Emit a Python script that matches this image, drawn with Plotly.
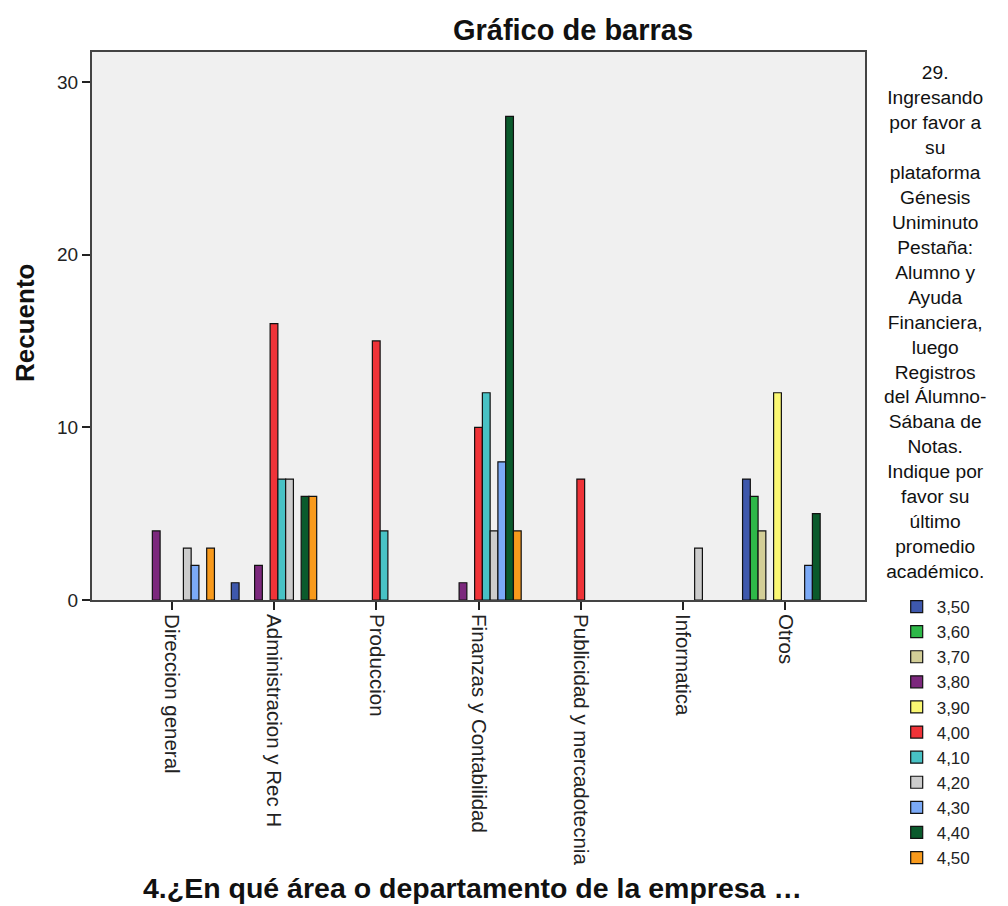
import plotly.graph_objects as go

categories = ["Direccion general", "Administracion y Rec H", "Produccion",
              "Finanzas y Contabilidad", "Publicidad y mercadotecnia",
              "Informatica", "Otros"]

series_names = ["3,50", "3,60", "3,70", "3,80", "3,90", "4,00",
                "4,10", "4,20", "4,30", "4,40", "4,50"]

v_350 = [None, 1, None, None, None, None, 7]
v_360 = [None, None, None, None, None, None, 6]
v_370 = [None, None, None, None, None, None, 4]
v_380 = [4, 2, None, 1, None, None, None]
v_390 = [None, None, None, None, None, None, 12]
v_400 = [None, 16, 15, 10, 7, None, None]
v_410 = [None, 7, 4, 12, None, None, None]
v_420 = [3, 7, None, 4, None, 3, None]
v_430 = [2, None, None, 8, None, None, 2]
v_440 = [None, 6, None, 28, None, None, 5]
v_450 = [3, 6, None, 4, None, None, None]

series_values = [v_350, v_360, v_370, v_380, v_390, v_400,
                 v_410, v_420, v_430, v_440, v_450]

colors = ["#3E58AC", "#2EB848", "#D3CE97", "#7C287D", "#FBF873", "#EF3338",
          "#48C2C5", "#CCCCCC", "#7BAAF7", "#0A5A2C", "#F89A1C"]

y_ticks = [0, 10, 20, 30]

legend_title = ("29.<br>Ingresando<br>por favor a<br>su<br>plataforma<br>Génesis<br>"
                "Uniminuto<br>Pestaña:<br>Alumno y<br>Ayuda<br>Financiera,<br>luego<br>"
                "Registros<br>del Álumno-<br>Sábana de<br>Notas.<br>Indique por<br>"
                "favor su<br>último<br>promedio<br>académico.")

FONT = "Liberation Sans, Arial, sans-serif"

fig = go.Figure()
for name, vals, col in zip(series_names, series_values, colors):
    fig.add_trace(go.Bar(
        x=categories, y=vals, name=name, legendgroup=name,
        marker=dict(color=col, line=dict(color="#111", width=1.2)),
    ))

fig.update_layout(
    width=1000, height=898,
    barmode="group", bargap=0.165, bargroupgap=0,
    paper_bgcolor="white", plot_bgcolor="#F0F0F0",
    margin=dict(l=84, r=143, t=44, b=306, autoexpand=False),
    font=dict(family=FONT, color="#222"),
    title=dict(text="<b>Gráfico de barras</b>", x=565/1000, xanchor="center",
               y=1 - 22/898, yanchor="middle",
               font=dict(family=FONT, size=29, color="#111")),
    xaxis=dict(
        range=[-0.78, 6.78], showgrid=False, tickangle=90,
        ticks="outside", ticklen=8, tickwidth=1.5, tickcolor="#222",
        ticklabelstandoff=0,
        showline=True, linecolor="#444", linewidth=2, mirror=True,
        tickfont=dict(family=FONT, size=20.5, color="#222"),
    ),
    yaxis=dict(
        range=[0, 31.73], tickvals=y_ticks, showgrid=False, zeroline=False,
        ticks="outside", ticklen=8, tickwidth=1.5, tickcolor="#222",
        showline=True, linecolor="#444", linewidth=2, mirror=True,
        tickfont=dict(family=FONT, size=19, color="#222"),
    ),
    showlegend=True,
    legend=dict(x=1.041, xanchor="left", y=(600 - 589) / 548, yanchor="top",
                font=dict(family=FONT, size=17, color="#222"),
                tracegroupgap=0, bgcolor="rgba(0,0,0,0)"),
    annotations=[
        dict(text=legend_title, xref="paper", yref="paper",
             x=(935 - 92) / 773, y=(600 - 60) / 548, xanchor="center", yanchor="top",
             showarrow=False, align="center",
             font=dict(family=FONT, size=19.2, color="#111")),
        dict(text="<b>Recuento</b>", xref="paper", yref="paper",
             x=(25 - 92) / 773, y=(600 - 323) / 548, xanchor="center", yanchor="middle",
             textangle=-90, showarrow=False,
             font=dict(family=FONT, size=26, color="#111")),
        dict(text="<b>4.¿En qué área o departamento de la empresa …</b>",
             xref="paper", yref="paper",
             x=(472 - 92) / 773, y=-(888 - 600) / 548, xanchor="center", yanchor="middle",
             showarrow=False,
             font=dict(family=FONT, size=28.5, color="#111")),
    ],
)

fig.write_html("out.html")
